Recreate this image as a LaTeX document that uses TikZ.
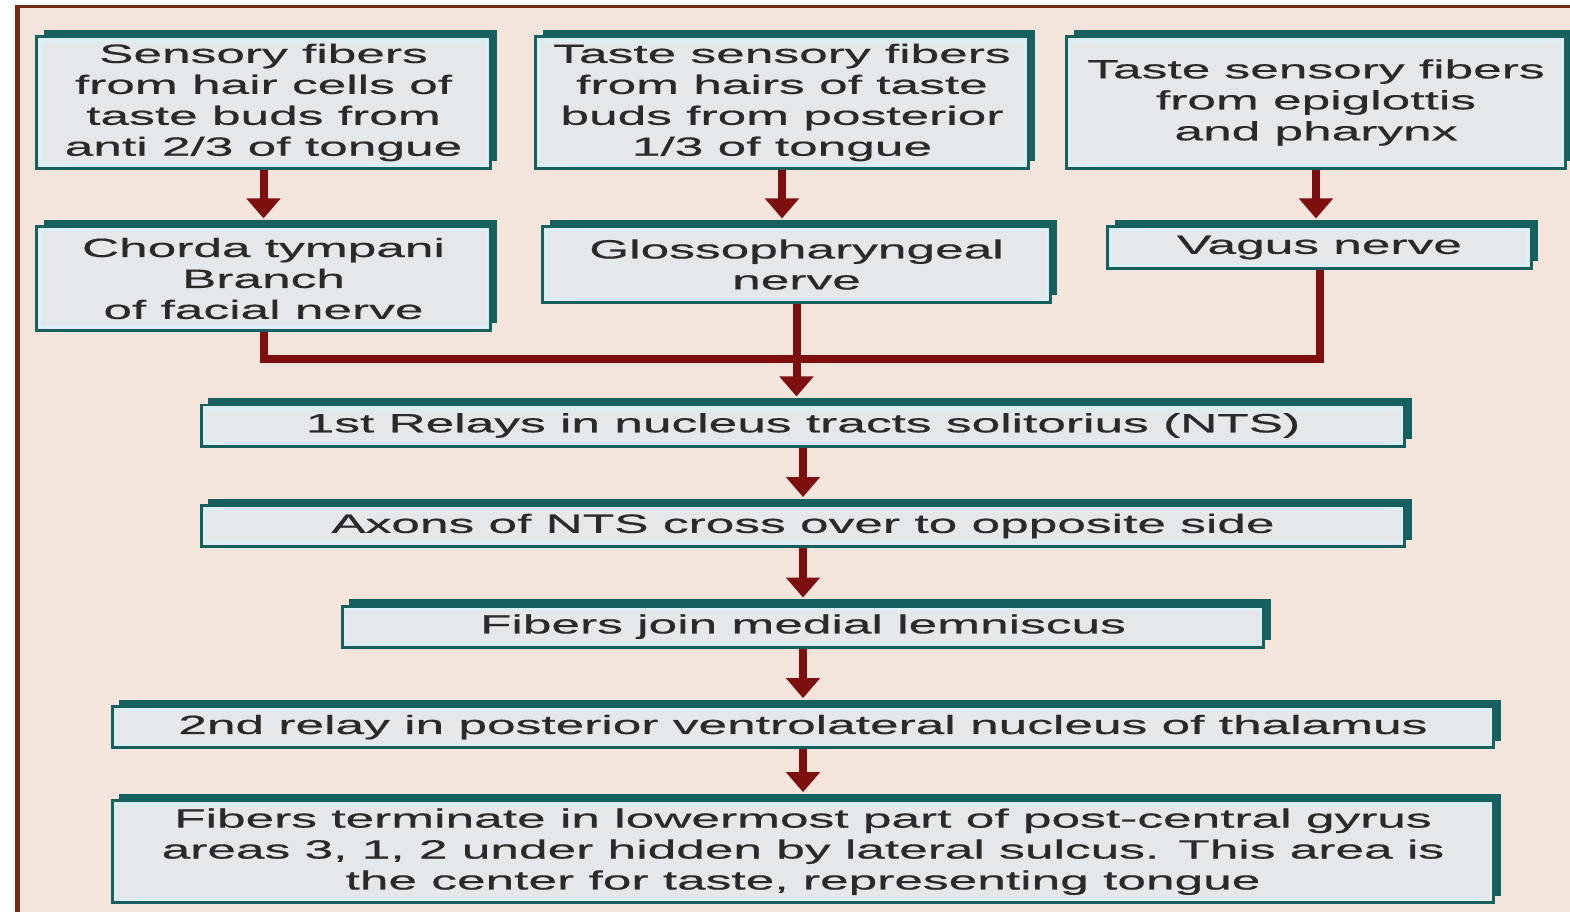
\documentclass[tikz,border=0pt]{standalone}
\usepackage{fontspec}
\setmainfont[FakeStretch=1.95, FakeBold=0.6]{Liberation Sans}
\usetikzlibrary{positioning, shadows, arrows.meta}

\definecolor{bgpeach}{HTML}{F3E5DC}
\definecolor{framebrown}{HTML}{6E2C12}
\definecolor{boxfill}{HTML}{E5E8EA}
\definecolor{boxedge}{HTML}{16605F}
\definecolor{boxline}{HTML}{D5F3F7}
\definecolor{arrred}{HTML}{7D0F0F}
\definecolor{txt}{HTML}{2A2A2A}

\begin{document}
\begin{tikzpicture}[x=0.01cm, y=-0.01cm, node distance=0.565cm,
		box/.style={draw=boxedge, line width=0.85pt, fill=boxfill, text=txt, align=center, inner sep=0pt,
			font=\fontsize{7.5}{8.8}\selectfont,
			general shadow={fill=boxedge, shadow xshift=0.07cm, shadow yshift=0.07cm},
			path picture={\draw[boxline, line width=0.5pt] ([shift={(0.9pt,-0.9pt)}]path picture bounding box.north west) rectangle ([shift={(-0.9pt,0.9pt)}]path picture bounding box.south east);}},
		flow/.style={draw=arrred, line width=0.08cm},
		arr/.style={flow, -{Triangle[width=0.33cm, length=0.2cm]}, shorten >=0.07cm}]
		\useasboundingbox (0,0) rectangle (1570,912);
		% background and frame
		\fill[white] (0,0) rectangle (1570,912);
		\fill[bgpeach] (15,5) rectangle (1570,912);
		\fill[framebrown] (15,5) rectangle (1570,8);
		\fill[framebrown] (15,5) rectangle (20,912);
		% sources
		\node[box, minimum width=4.53cm, minimum height=1.31cm] (hair) at (263.5,102.5) {Sensory fibers\\from hair cells of\\taste buds from\\anti 2/3 of tongue};
		\node[box, minimum width=4.92cm, minimum height=1.31cm] (post) at (782,102.5) {Taste sensory fibers\\from hairs of taste\\buds from posterior\\1/3 of tongue};
		\node[box, minimum width=4.98cm, minimum height=1.31cm] (epi) at (1316,102.5) {Taste sensory fibers\\from epiglottis\\and pharynx};
		% nerves
		\node[box, minimum width=4.53cm, minimum height=1.03cm] (chorda) at (263.5,278.5) {Chorda tympani\\Branch\\of facial nerve};
		\node[box, minimum width=5.07cm, minimum height=0.75cm] (glosso) at (796.5,264.5) {Glossopharyngeal\\nerve};
		\node[box, minimum width=4.23cm, minimum height=0.41cm] (vagus) at (1319.5,247.5) {Vagus nerve};
		% central pathway
		\node[box, minimum width=12.03cm, minimum height=0.41cm] (nts) at (803,425.5) {1st Relays in nucleus tracts solitorius (NTS)};
		\node[box, minimum width=12.03cm, minimum height=0.41cm] (cross) [below=of nts] {Axons of NTS cross over to opposite side};
		\node[box, minimum width=9.21cm, minimum height=0.41cm] (lemn) [below=of cross] {Fibers join medial lemniscus};
		\node[box, minimum width=13.81cm, minimum height=0.41cm] (thal) [below=of lemn] {2nd relay in posterior ventrolateral nucleus of thalamus};
		\node[box, minimum width=13.81cm, minimum height=1.02cm] (gyrus) [below=0.5cm of thal] {Fibers terminate in lowermost part of post-central gyrus\\areas 3, 1, 2 under hidden by lateral sulcus. This area is\\the center for taste, representing tongue};
		% connectors
		\path (glosso.south) ++(0,55) coordinate (merge);
		\draw[arr] (hair) -- (chorda);
		\draw[arr] (post.south) -- (post.south |- glosso.north);
		\draw[arr] (epi.south) -- (epi.south |- vagus.north);
		\draw[flow] (chorda.south) |- (merge) -| (vagus.south);
		\draw[arr] (glosso.south) -- (glosso.south |- nts.north);
		\foreach \a/\b in {nts/cross, cross/lemn, lemn/thal, thal/gyrus}
			\draw[arr] (\a) -- (\b);
	\end{tikzpicture}
\end{document}
